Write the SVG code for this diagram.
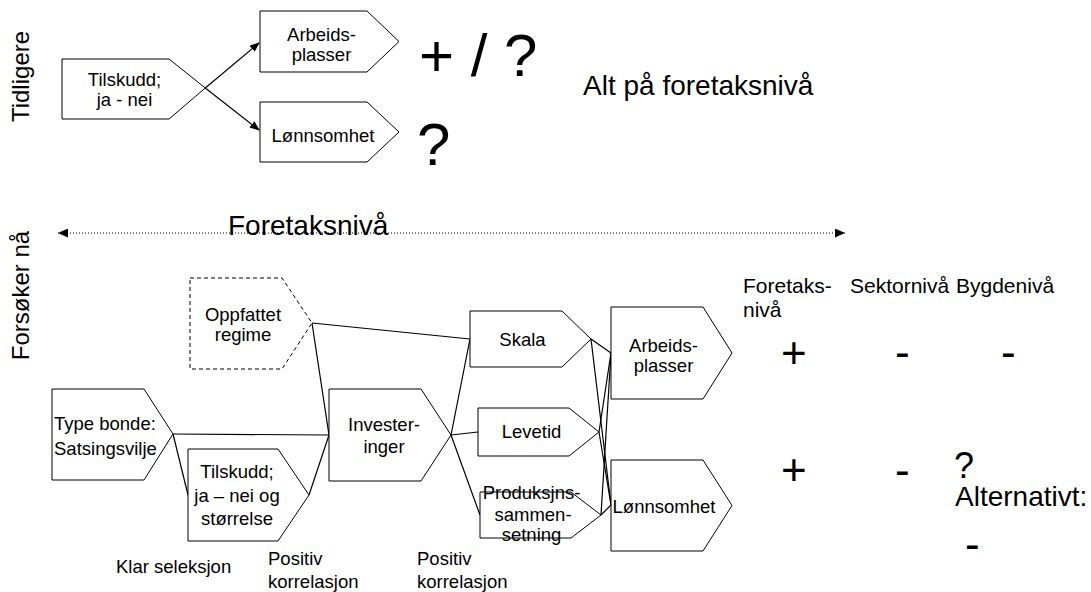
<svg xmlns="http://www.w3.org/2000/svg" width="1091" height="592" viewBox="0 0 1091 592">
<style>
text{font-family:"Liberation Sans",Arial,sans-serif;fill:#000}
.box{fill:#fff;stroke:#000;stroke-width:1}
.dash{fill:#fff;stroke:#000;stroke-width:1;stroke-dasharray:4 3}
.c{fill:none;stroke:#000;stroke-width:1.2}
.t{font-size:18.5px;text-anchor:middle}
.tl{font-size:18.5px}
.lab{font-size:21px}
.big{font-size:44px}
</style>
<defs>
<marker id="ah" markerWidth="10" markerHeight="8" refX="9" refY="4" orient="auto" markerUnits="userSpaceOnUse">
<path d="M0,0 L10,4 L0,8 Z" fill="#000"/>
</marker>
<marker id="dh" markerWidth="10" markerHeight="9" refX="10" refY="4.5" orient="auto" markerUnits="userSpaceOnUse">
<path d="M0,0 L10,4.5 L0,9 Z" fill="#000"/>
</marker>
<marker id="dhs" markerWidth="10" markerHeight="9" refX="0" refY="4.5" orient="auto" markerUnits="userSpaceOnUse">
<path d="M10,0 L0,4.5 L10,9 Z" fill="#000"/>
</marker>
</defs>

<rect width="1091" height="592" fill="#fff"/>

<!-- side labels -->
<text transform="translate(29,76.5) rotate(-90)" font-size="24" text-anchor="middle">Tidligere</text>
<text transform="translate(29,295.5) rotate(-90)" font-size="24" text-anchor="middle">Forsøker nå</text>

<!-- connectors -->
<g id="connectors">
<line class="c" x1="205.3" y1="88" x2="259" y2="130" marker-end="url(#ah)"/>
<line class="c" x1="205.3" y1="88" x2="259" y2="43" marker-end="url(#ah)"/>
<line x1="58" y1="233" x2="845" y2="233" stroke="#000" stroke-width="1" stroke-dasharray="1 2" marker-start="url(#dhs)" marker-end="url(#dh)"/>
<line class="c" x1="312" y1="323" x2="470" y2="339"/>
<line class="c" x1="312" y1="323" x2="329" y2="435"/>
<line class="c" x1="173" y1="434" x2="329" y2="435"/>
<line class="c" x1="173" y1="434" x2="188" y2="495"/>
<line class="c" x1="309" y1="495" x2="329" y2="435"/>
<line class="c" x1="451" y1="435" x2="470" y2="339"/>
<line class="c" x1="451" y1="435" x2="478" y2="432"/>
<line class="c" x1="451" y1="435" x2="480" y2="515"/>
<line class="c" x1="591" y1="339" x2="611" y2="353"/>
<line class="c" x1="591" y1="339" x2="611" y2="505"/>
<line class="c" x1="599" y1="432" x2="611" y2="353"/>
<line class="c" x1="599" y1="432" x2="611" y2="505"/>
<line class="c" x1="601" y1="515" x2="611" y2="353"/>
<line class="c" x1="601" y1="515" x2="611" y2="505"/>
</g>

<!-- top nodes -->
<g id="n-tilskudd-top">
<polygon class="box" points="62,59 169,59 205.3,88 169,119 62,119"/>
<text class="t" x="124.5" y="86">Tilskudd;</text>
<text class="t" x="124.5" y="106">ja - nei</text>
</g>
<g id="n-arbeid-top">
<polygon class="box" points="260,11 367,11 399,41.5 367,72 260,72"/>
<text class="t" x="321.5" y="41">Arbeids-</text>
<text class="t" x="321.5" y="61">plasser</text>
</g>
<g id="n-lonn-top">
<polygon class="box" points="260,102 367,102 399,132 367,162 260,162"/>
<text class="t" x="323" y="142">Lønnsomhet</text>
</g>

<text x="419" y="76" font-size="60">+ / ?</text>
<text x="417" y="165" font-size="60">?</text>
<text x="583" y="95" font-size="28">Alt på foretaksnivå</text>

<text x="228" y="235" font-size="28">Foretaksnivå</text>

<!-- bottom nodes -->
<g id="n-oppfattet">
<polygon class="dash" points="190,278 282,278 312,323 282,369 190,369"/>
<text class="t" x="243" y="321">Oppfattet</text>
<text class="t" x="243" y="341">regime</text>
</g>
<g id="n-typebonde">
<polygon class="box" points="52,389 144,389 173,434 144,480 52,480"/>
<text class="tl" x="54" y="430">Type bonde:</text>
<text class="tl" x="54" y="455">Satsingsvilje</text>
</g>
<g id="n-tilskudd">
<polygon class="box" points="188,449 278,449 309,495 278,541 188,541"/>
<text class="t" x="237" y="478">Tilskudd;</text>
<text class="t" x="237" y="502">ja – nei og</text>
<text class="t" x="237" y="525">størrelse</text>
</g>
<g id="n-invest">
<polygon class="box" points="329,389 421,389 451,435 421,481 329,481"/>
<text class="t" x="384" y="431">Invester-</text>
<text class="t" x="384" y="453">inger</text>
</g>
<g id="n-skala">
<polygon class="box" points="470,311 562,311 591,339 562,367 470,367"/>
<text class="t" x="522.5" y="346">Skala</text>
</g>
<g id="n-levetid">
<polygon class="box" points="478,408 569,408 599,432 569,456 478,456"/>
<text class="t" x="531.5" y="438">Levetid</text>
</g>
<g id="n-produksjon">
<polygon class="box" points="480,492 571,492 601,515 571,538 480,538"/>
<text class="t" x="531.5" y="499">Produksjns-</text>
<text class="t" x="533" y="521">sammen-</text>
<text class="t" x="531.5" y="541">setning</text>
</g>
<g id="n-arbeid">
<polygon class="box" points="611,307 703,307 732,353 703,399 611,399"/>
<text class="t" x="663.5" y="352">Arbeids-</text>
<text class="t" x="663.5" y="372">plasser</text>
</g>
<g id="n-lonn">
<polygon class="box" points="611,460 703,460 732,505.5 703,551 611,551"/>
<text class="t" x="664" y="513">Lønnsomhet</text>
</g>

<!-- bottom labels -->
<text class="tl" x="116" y="573">Klar seleksjon</text>
<text class="tl" x="268" y="565">Positiv</text>
<text class="tl" x="268" y="588">korrelasjon</text>
<text class="tl" x="417" y="565">Positiv</text>
<text class="tl" x="417" y="588">korrelasjon</text>

<!-- right side -->
<text class="lab" x="743" y="293">Foretaks-</text>
<text class="lab" x="743" y="317">nivå</text>
<text class="lab" x="850" y="293">Sektornivå</text>
<text class="lab" x="956" y="293">Bygdenivå</text>
<text class="big" x="781" y="368">+</text>
<text class="big" x="895" y="367">-</text>
<text class="big" x="1001" y="367">-</text>
<text class="big" x="781" y="485">+</text>
<text class="big" x="895" y="485">-</text>
<text x="954" y="478" font-size="36">?</text>
<text x="955" y="506" font-size="28">Alternativt:</text>
<text class="big" x="965" y="559">-</text>
</svg>
